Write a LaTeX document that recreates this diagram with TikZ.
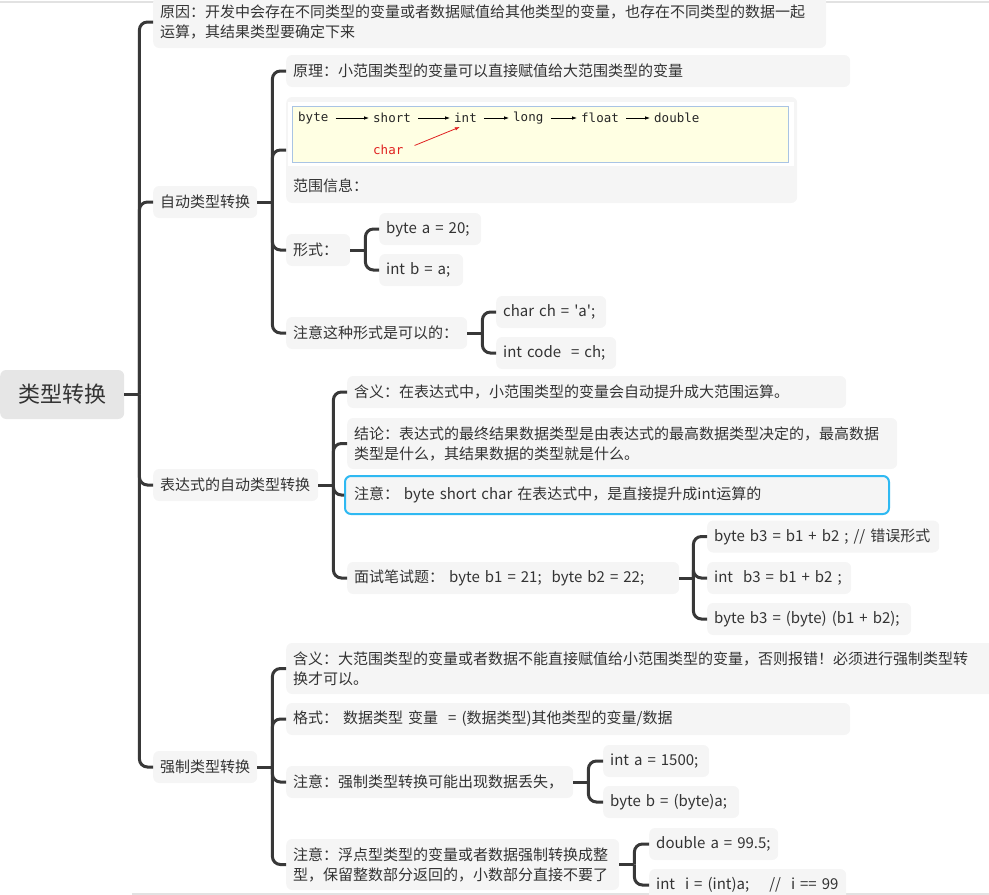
\documentclass[tikz,border=0pt]{standalone}
\usepackage{fontspec}
\setmainfont{Noto Sans CJK SC}[Ligatures=TeXOff]
\newfontfamily\codefont{DejaVu Sans Mono}
\usetikzlibrary{arrows.meta,calc}
\definecolor{ink}{HTML}{333333}
\definecolor{wire}{HTML}{383838}
\definecolor{boxgray}{HTML}{F5F5F5}
\definecolor{rootgray}{HTML}{E6E6E6}
\definecolor{notice}{HTML}{2FB9F2}
\definecolor{codebg}{HTML}{FFFFE3}
\definecolor{codeline}{HTML}{A9C4E4}
\definecolor{codered}{HTML}{E02020}
\definecolor{rulegray}{HTML}{E2E2E2}
\tikzset{
  rootbox/.style={fill=rootgray, rounded corners=6pt, text=ink, anchor=west,
    minimum width=124pt, minimum height=49pt, inner sep=0pt,
    font=\fontsize{22}{26}\selectfont},
  topic/.style={fill=boxgray, rounded corners=6pt, text=ink, anchor=west, align=left,
    inner xsep=7pt, inner ysep=0pt, minimum height=32pt, text width=#1,
    font=\fontsize{15}{20}\selectfont},
  notebox/.style={topic=#1, draw=notice, line width=2pt, inner xsep=9pt, minimum height=38pt},
  plaintxt/.style={text=ink, anchor=west, inner xsep=7pt, font=\fontsize{15}{20}\selectfont},
  code/.style={anchor=west, inner sep=0pt, text=black!85, font=\codefont\fontsize{12.5}{15}\selectfont},
  flow/.style={-{Latex[length=5pt,width=3.6pt]}, line width=.8pt, shorten <=7pt, shorten >=4pt},
  redflow/.style={flow, draw=codered, shorten <=12pt, shorten >=0pt},
  stub/.style={draw=wire, line width=3pt},
  branch/.style={draw=wire, line width=3pt, rounded corners=8pt}
}

\begin{document}
\begin{tikzpicture}[x=1pt, y=-1pt]
  \useasboundingbox (0,0) rectangle (989,895);
  \clip (0,0) rectangle (989,895);
  \draw[rulegray, line width=2pt] (0,1.5) -- (989,1.5);
  \draw[rulegray, line width=2pt] (132,893.5) -- (989,893.5);

  \node[rootbox] (root) at (0,394.5) {类型转换};

  \node[topic=659pt, minimum height=52pt] (why) at (153,22) {原因：开发中会存在不同类型的变量或者数据赋值给其他类型的变量，也存在不同类型的数据一起\\运算，其结果类型要确定下来};
  \node[topic=90pt] (auto) at (153,202) {自动类型转换};
  \node[topic=151pt] (expr) at (153,485) {表达式的自动类型转换};
  \node[topic=90pt] (cast) at (153,767) {强制类型转换};

  % automatic conversion
  \node[topic=550pt] (rule1) at (286,71) {原理：小范围类型的变量可以直接赋值给大范围类型的变量};
  \node[topic=497pt, minimum height=106pt] (range) at (286,150) {};
  \node[fill=white, anchor=north west, minimum width=506pt, minimum height=64pt, inner sep=0pt] (shot) at (288,102) {};
  \node[fill=codebg, draw=codeline, line width=1pt, anchor=north west,
    minimum width=496pt, minimum height=56pt, inner sep=0pt] (chart) at (292,106) {};
  \node[code] (tbyte) at (298,118) {byte};
  \node[code] (tshort) at (373,118) {short};
  \node[code] (tint) at (454,118) {int};
  \node[code] (tlong) at (513,118) {long};
  \node[code] (tfloat) at (581,118) {float};
  \node[code] (tdouble) at (654,118) {double};
  \node[code, text=codered] (tchar) at (373,150) {char};
  \draw[flow] (tbyte) -- (tshort);
  \draw[flow] (tshort) -- (tint);
  \draw[flow] (tint) -- (tlong);
  \draw[flow] (tlong) -- (tfloat);
  \draw[flow] (tfloat) -- (tdouble);
  \draw[redflow] (tchar.east) -- ($(tint.south west)+(6,4)$);
  \node[plaintxt] (rangetxt) at (286,186) {范围信息：};

  \node[topic=50pt] (form) at (286,250) {形式：};
  \node[topic=88pt] (fa) at (379,229) {byte a = 20;};
  \node[topic=70pt] (fb) at (379,270) {int b = a;};
  \node[topic=167pt] (okform) at (286,333) {注意这种形式是可以的：};
  \node[topic=96pt] (ch) at (496,312) {char ch = 'a';};
  \node[topic=106pt] (code) at (496,353) {int code~ = ch;};

  % expression promotion
  \node[topic=485pt] (meaning) at (347,392) {含义：在表达式中，小范围类型的变量会自动提升成大范围运算。};
  \node[topic=536pt, minimum height=51pt] (result) at (347,443.5) {结论：表达式的最终结果数据类型是由表达式的最高数据类型决定的，最高数据\\类型是什么，其结果数据的类型就是什么。};
  \node[notebox=526pt] (notice) at (344,495) {注意： byte short char 在表达式中，是直接提升成int运算的};
  \node[topic=318pt] (quiz) at (347,578) {面试笔试题： byte b1 = 21;~ byte b2 = 22;};
  \node[topic=218pt] (qa) at (707,536.5) {byte b3 = b1 + b2 ; // 错误形式};
  \node[topic=130pt] (qb) at (707,578) {int~ b3 = b1 + b2 ;};
  \node[topic=190pt] (qc) at (707,619) {byte b3 = (byte) (b1 + b2);};

  % forced conversion
  \node[topic=695pt, minimum height=51pt] (cmean) at (286,668.5) {含义：大范围类型的变量或者数据不能直接赋值给小范围类型的变量，否则报错！必须进行强制类型转\\换才可以。};
  \node[topic=550pt] (cform) at (286,719) {格式： 数据类型 变量~ = (数据类型)其他类型的变量/数据};
  \node[topic=273pt] (closs) at (286,782) {注意：强制类型转换可能出现数据丢失，};
  \node[topic=92pt] (la) at (603,761) {int a = 1500;};
  \node[topic=122pt] (lb) at (603,802) {byte b = (byte)a;};
  \node[topic=319pt, minimum height=51pt] (cfloat) at (286,864.5) {注意：浮点型类型的变量或者数据强制转换成整\\型，保留整数部分返回的，小数部分直接不要了};
  \node[topic=115pt] (da) at (649,844) {double a = 99.5;};
  \node[topic=183pt] (db) at (649,885) {int~ i = (int)a;~~~ //~ i == 99};

  % connectors
  \coordinate (jroot) at ($(root.east)+(15,0)$);
  \coordinate (jauto) at ($(auto.east)+(15,0)$);
  \coordinate (jform) at ($(form.east)+(15,0)$);
  \coordinate (jok) at ($(okform.east)+(15,0)$);
  \coordinate (jexpr) at ($(expr.east)+(15,0)$);
  \coordinate (jquiz) at ($(quiz.east)+(14,0)$);
  \coordinate (jcast) at ($(cast.east)+(15,0)$);
  \coordinate (jloss) at ($(closs.east)+(15,0)$);
  \coordinate (jfloat) at ($(cfloat.east)+(15,0)$);

  \draw[stub] (root.east) -- (jroot);
  \draw[branch] (jroot) |- (why.west);
  \draw[branch] (jroot) |- (auto.west);
  \draw[branch] (jroot) |- (expr.west);
  \draw[branch] (jroot) |- (cast.west);

  \draw[stub] (auto.east) -- (jauto);
  \draw[branch] (jauto) |- (rule1.west);
  \draw[branch] (jauto) |- (range.west);
  \draw[branch] (jauto) |- (form.west);
  \draw[branch] (jauto) |- (okform.west);

  \draw[stub] (form.east) -- (jform);
  \draw[branch] (jform) |- (fa.west);
  \draw[branch] (jform) |- (fb.west);

  \draw[stub] (okform.east) -- (jok);
  \draw[branch] (jok) |- (ch.west);
  \draw[branch] (jok) |- (code.west);

  \draw[stub] (expr.east) -- (jexpr);
  \draw[branch] (jexpr) |- (meaning.west);
  \draw[branch] (jexpr) |- (result.west);
  \draw[branch] (jexpr) |- (notice.west);
  \draw[branch] (jexpr) |- (quiz.west);

  \draw[stub] (quiz.east) -- (jquiz);
  \draw[branch] (jquiz) |- (qa.west);
  \draw[branch] (jquiz) |- (qb.west);
  \draw[branch] (jquiz) |- (qc.west);

  \draw[stub] (cast.east) -- (jcast);
  \draw[branch] (jcast) |- (cmean.west);
  \draw[branch] (jcast) |- (cform.west);
  \draw[branch] (jcast) |- (closs.west);
  \draw[branch] (jcast) |- (cfloat.west);

  \draw[stub] (closs.east) -- (jloss);
  \draw[branch] (jloss) |- (la.west);
  \draw[branch] (jloss) |- (lb.west);

  \draw[stub] (cfloat.east) -- (jfloat);
  \draw[branch] (jfloat) |- (da.west);
  \draw[branch] (jfloat) |- (db.west);
\end{tikzpicture}
\end{document}
